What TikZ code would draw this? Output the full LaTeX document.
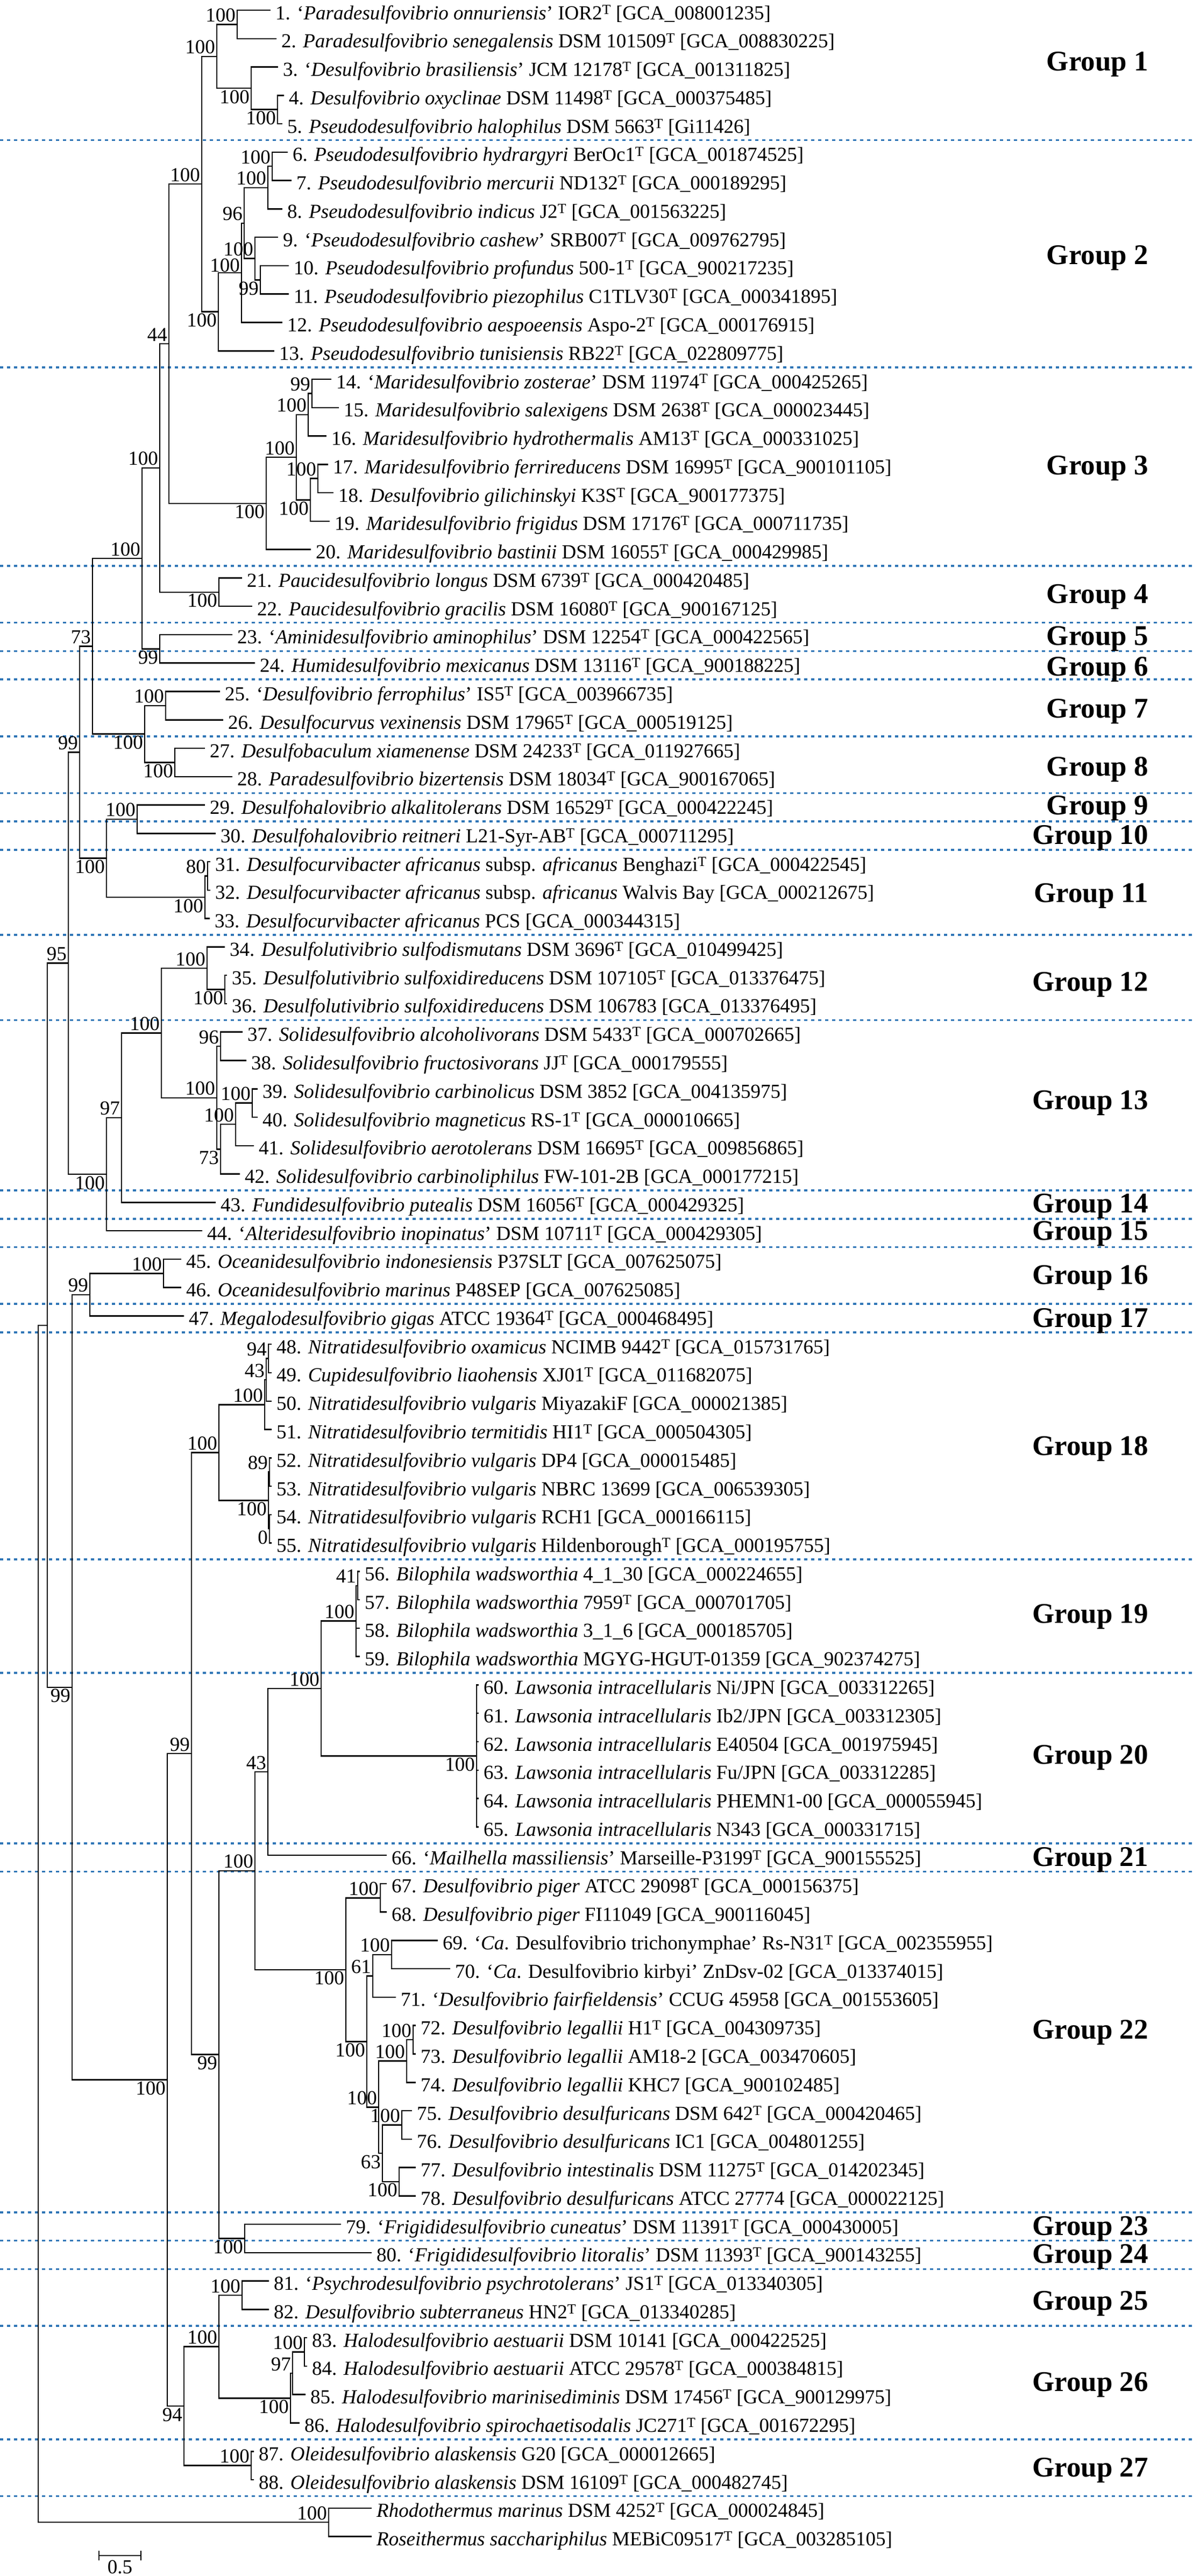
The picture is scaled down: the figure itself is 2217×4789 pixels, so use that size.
\documentclass[tikz,border=0pt]{standalone}
\usepackage{fontspec}
\setmainfont{Liberation Serif}
\definecolor{sepblue}{RGB}{46,117,182}
\newcommand\typ{\textsuperscript{T}}
\tikzset{
  br/.style={line width=2.5pt, line cap=rect, black},
  leaf/.style={font=\fontsize{37}{40}\selectfont, inner sep=0pt, anchor=base west},
  bs/.style={font=\fontsize{37}{40}\selectfont, inner sep=0pt, anchor=base east},
  grp/.style={font=\fontsize{53}{60}\selectfont\bfseries, inner sep=0pt, anchor=base east},
  sepline/.style={line width=3.5pt, color=sepblue, dash pattern=on 6pt off 7pt},
}
\newcommand\clade[3]{\draw[br] (#2) -| (#1 |- #3) -- (#3);}
\newcommand\midch[2]{\draw[br] (#1 |- #2) -- (#2);}
\newcommand\leafat[3]{\coordinate (L#1) at (#2,{19+52.77*(#1-1)});
  \node[leaf] (T#1) at ([xshift=10pt,yshift=-17pt]L#1) {#3};}
\newcommand\bsa[2]{\node[bs] (B#1) at ([xshift=-3pt,yshift=5pt]#1) {#2};}
\newcommand\bsb[2]{\node[bs] (B#1) at ([xshift=-3pt,yshift=-28pt]#1) {#2};}
\begin{document}
\begin{tikzpicture}[x=1pt,y=-1pt]
\useasboundingbox (0,0) rectangle (2217,4789);
\fill[white] (0,0) rectangle (2217,4789);
% separators
\foreach \i in {5,13,20,22,23,24,26,28,29,30,33,36,42,43,44,46,47,55,59,65,66,78,79,80,82,86,88}
  \draw[sepline] (0,{19+52.77*(\i-1)+30.5}) -- (2217,{19+52.77*(\i-1)+30.5});
% leaves
\leafat{1}{502}{1. `\textit{Paradesulfovibrio onnuriensis}' IOR2\typ{} [GCA\_008001235]}
\leafat{2}{513}{2. \textit{Paradesulfovibrio senegalensis} DSM 101509\typ{} [GCA\_008830225]}
\leafat{3}{516}{3. `\textit{Desulfovibrio brasiliensis}' JCM 12178\typ{} [GCA\_001311825]}
\leafat{4}{527}{4. \textit{Desulfovibrio oxyclinae} DSM 11498\typ{} [GCA\_000375485]}
\leafat{5}{524}{5. \textit{Pseudodesulfovibrio halophilus} DSM 5663\typ{} [Gi11426]}
\leafat{6}{534}{6. \textit{Pseudodesulfovibrio hydrargyri} BerOc1\typ{} [GCA\_001874525]}
\leafat{7}{541}{7. \textit{Pseudodesulfovibrio mercurii} ND132\typ{} [GCA\_000189295]}
\leafat{8}{524}{8. \textit{Pseudodesulfovibrio indicus} J2\typ{} [GCA\_001563225]}
\leafat{9}{516}{9. `\textit{Pseudodesulfovibrio cashew}' SRB007\typ{} [GCA\_009762795]}
\leafat{10}{536}{10. \textit{Pseudodesulfovibrio profundus} 500-1\typ{} [GCA\_900217235]}
\leafat{11}{536}{11. \textit{Pseudodesulfovibrio piezophilus} C1TLV30\typ{} [GCA\_000341895]}
\leafat{12}{524}{12. \textit{Pseudodesulfovibrio aespoeensis} Aspo-2\typ{} [GCA\_000176915]}
\leafat{13}{509}{13. \textit{Pseudodesulfovibrio tunisiensis} RB22\typ{} [GCA\_022809775]}
\leafat{14}{615}{14. `\textit{Maridesulfovibrio zosterae}' DSM 11974\typ{} [GCA\_000425265]}
\leafat{15}{629}{15. \textit{Maridesulfovibrio salexigens} DSM 2638\typ{} [GCA\_000023445]}
\leafat{16}{606}{16. \textit{Maridesulfovibrio hydrothermalis} AM13\typ{} [GCA\_000331025]}
\leafat{17}{609}{17. \textit{Maridesulfovibrio ferrireducens} DSM 16995\typ{} [GCA\_900101105]}
\leafat{18}{619}{18. \textit{Desulfovibrio gilichinskyi} K3S\typ{} [GCA\_900177375]}
\leafat{19}{612}{19. \textit{Maridesulfovibrio frigidus} DSM 17176\typ{} [GCA\_000711735]}
\leafat{20}{577}{20. \textit{Maridesulfovibrio bastinii} DSM 16055\typ{} [GCA\_000429985]}
\leafat{21}{449}{21. \textit{Paucidesulfovibrio longus} DSM 6739\typ{} [GCA\_000420485]}
\leafat{22}{468}{22. \textit{Paucidesulfovibrio gracilis} DSM 16080\typ{} [GCA\_900167125]}
\leafat{23}{431}{23. `\textit{Aminidesulfovibrio aminophilus}' DSM 12254\typ{} [GCA\_000422565]}
\leafat{24}{473}{24. \textit{Humidesulfovibrio mexicanus} DSM 13116\typ{} [GCA\_900188225]}
\leafat{25}{408}{25. `\textit{Desulfovibrio ferrophilus}' IS5\typ{} [GCA\_003966735]}
\leafat{26}{414}{26. \textit{Desulfocurvus vexinensis} DSM 17965\typ{} [GCA\_000519125]}
\leafat{27}{380}{27. \textit{Desulfobaculum xiamenense} DSM 24233\typ{} [GCA\_011927665]}
\leafat{28}{431}{28. \textit{Paradesulfovibrio bizertensis} DSM 18034\typ{} [GCA\_900167065]}
\leafat{29}{380}{29. \textit{Desulfohalovibrio alkalitolerans} DSM 16529\typ{} [GCA\_000422245]}
\leafat{30}{400}{30. \textit{Desulfohalovibrio reitneri} L21-Syr-AB\typ{} [GCA\_000711295]}
\leafat{31}{390}{31. \textit{Desulfocurvibacter africanus} subsp. \textit{africanus} Benghazi\typ{} [GCA\_000422545]}
\leafat{32}{390}{32. \textit{Desulfocurvibacter africanus} subsp. \textit{africanus} Walvis Bay [GCA\_000212675]}
\leafat{33}{389}{33. \textit{Desulfocurvibacter africanus} PCS [GCA\_000344315]}
\leafat{34}{417}{34. \textit{Desulfolutivibrio sulfodismutans} DSM 3696\typ{} [GCA\_010499425]}
\leafat{35}{421}{35. \textit{Desulfolutivibrio sulfoxidireducens} DSM 107105\typ{} [GCA\_013376475]}
\leafat{36}{421}{36. \textit{Desulfolutivibrio sulfoxidireducens} DSM 106783 [GCA\_013376495]}
\leafat{37}{450}{37. \textit{Solidesulfovibrio alcoholivorans} DSM 5433\typ{} [GCA\_000702665]}
\leafat{38}{457}{38. \textit{Solidesulfovibrio fructosivorans} JJ\typ{} [GCA\_000179555]}
\leafat{39}{478}{39. \textit{Solidesulfovibrio carbinolicus} DSM 3852 [GCA\_004135975]}
\leafat{40}{478}{40. \textit{Solidesulfovibrio magneticus} RS-1\typ{} [GCA\_000010665]}
\leafat{41}{471}{41. \textit{Solidesulfovibrio aerotolerans} DSM 16695\typ{} [GCA\_009856865]}
\leafat{42}{445}{42. \textit{Solidesulfovibrio carbinoliphilus} FW-101-2B [GCA\_000177215]}
\leafat{43}{400}{43. \textit{Fundidesulfovibrio putealis} DSM 16056\typ{} [GCA\_000429325]}
\leafat{44}{375}{44. `\textit{Alteridesulfovibrio inopinatus}' DSM 10711\typ{} [GCA\_000429305]}
\leafat{45}{336}{45. \textit{Oceanidesulfovibrio indonesiensis} P37SLT [GCA\_007625075]}
\leafat{46}{336}{46. \textit{Oceanidesulfovibrio marinus} P48SEP [GCA\_007625085]}
\leafat{47}{341}{47. \textit{Megalodesulfovibrio gigas} ATCC 19364\typ{} [GCA\_000468495]}
\leafat{48}{504}{48. \textit{Nitratidesulfovibrio oxamicus} NCIMB 9442\typ{} [GCA\_015731765]}
\leafat{49}{504}{49. \textit{Cupidesulfovibrio liaohensis} XJ01\typ{} [GCA\_011682075]}
\leafat{50}{504}{50. \textit{Nitratidesulfovibrio vulgaris} MiyazakiF [GCA\_000021385]}
\leafat{51}{504}{51. \textit{Nitratidesulfovibrio termitidis} HI1\typ{} [GCA\_000504305]}
\leafat{52}{504}{52. \textit{Nitratidesulfovibrio vulgaris} DP4 [GCA\_000015485]}
\leafat{53}{504}{53. \textit{Nitratidesulfovibrio vulgaris} NBRC 13699 [GCA\_006539305]}
\leafat{54}{504}{54. \textit{Nitratidesulfovibrio vulgaris} RCH1 [GCA\_000166115]}
\leafat{55}{504}{55. \textit{Nitratidesulfovibrio vulgaris} Hildenborough\typ{} [GCA\_000195755]}
\leafat{56}{668}{56. \textit{Bilophila wadsworthia} 4\_1\_30 [GCA\_000224655]}
\leafat{57}{668}{57. \textit{Bilophila wadsworthia} 7959\typ{} [GCA\_000701705]}
\leafat{58}{668}{58. \textit{Bilophila wadsworthia} 3\_1\_6 [GCA\_000185705]}
\leafat{59}{668}{59. \textit{Bilophila wadsworthia} MGYG-HGUT-01359 [GCA\_902374275]}
\leafat{60}{889}{60. \textit{Lawsonia intracellularis} Ni/JPN [GCA\_003312265]}
\leafat{61}{889}{61. \textit{Lawsonia intracellularis} Ib2/JPN [GCA\_003312305]}
\leafat{62}{889}{62. \textit{Lawsonia intracellularis} E40504 [GCA\_001975945]}
\leafat{63}{889}{63. \textit{Lawsonia intracellularis} Fu/JPN [GCA\_003312285]}
\leafat{64}{889}{64. \textit{Lawsonia intracellularis} PHEMN1-00 [GCA\_000055945]}
\leafat{65}{889}{65. \textit{Lawsonia intracellularis} N343 [GCA\_000331715]}
\leafat{66}{718}{66. `\textit{Mailhella massiliensis}' Marseille-P3199\typ{} [GCA\_900155525]}
\leafat{67}{718}{67. \textit{Desulfovibrio piger} ATCC 29098\typ{} [GCA\_000156375]}
\leafat{68}{718}{68. \textit{Desulfovibrio piger} FI11049 [GCA\_900116045]}
\leafat{69}{813}{69. `\textit{Ca}. Desulfovibrio trichonymphae' Rs-N31\typ{} [GCA\_002355955]}
\leafat{70}{836}{70. `\textit{Ca}. Desulfovibrio kirbyi' ZnDsv-02 [GCA\_013374015]}
\leafat{71}{735}{71. `\textit{Desulfovibrio fairfieldensis}' CCUG 45958 [GCA\_001553605]}
\leafat{72}{772}{72. \textit{Desulfovibrio legallii} H1\typ{} [GCA\_004309735]}
\leafat{73}{772}{73. \textit{Desulfovibrio legallii} AM18-2 [GCA\_003470605]}
\leafat{74}{772}{74. \textit{Desulfovibrio legallii} KHC7 [GCA\_900102485]}
\leafat{75}{765}{75. \textit{Desulfovibrio desulfuricans} DSM 642\typ{} [GCA\_000420465]}
\leafat{76}{765}{76. \textit{Desulfovibrio desulfuricans} IC1 [GCA\_004801255]}
\leafat{77}{772}{77. \textit{Desulfovibrio intestinalis} DSM 11275\typ{} [GCA\_014202345]}
\leafat{78}{772}{78. \textit{Desulfovibrio desulfuricans} ATCC 27774 [GCA\_000022125]}
\leafat{79}{633}{79. `\textit{Frigididesulfovibrio cuneatus}' DSM 11391\typ{} [GCA\_000430005]}
\leafat{80}{690}{80. `\textit{Frigididesulfovibrio litoralis}' DSM 11393\typ{} [GCA\_900143255]}
\leafat{81}{499}{81. `\textit{Psychrodesulfovibrio psychrotolerans}' JS1\typ{} [GCA\_013340305]}
\leafat{82}{499}{82. \textit{Desulfovibrio subterraneus} HN2\typ{} [GCA\_013340285]}
\leafat{83}{570}{83. \textit{Halodesulfovibrio aestuarii} DSM 10141 [GCA\_000422525]}
\leafat{84}{570}{84. \textit{Halodesulfovibrio aestuarii} ATCC 29578\typ{} [GCA\_000384815]}
\leafat{85}{567}{85. \textit{Halodesulfovibrio marinisediminis} DSM 17456\typ{} [GCA\_900129975]}
\leafat{86}{556}{86. \textit{Halodesulfovibrio spirochaetisodalis} JC271\typ{} [GCA\_001672295]}
\leafat{87}{471}{87. \textit{Oleidesulfovibrio alaskensis} G20 [GCA\_000012665]}
\leafat{88}{471}{88. \textit{Oleidesulfovibrio alaskensis} DSM 16109\typ{} [GCA\_000482745]}
\leafat{89}{690}{\textit{Rhodothermus marinus} DSM 4252\typ{} [GCA\_000024845]}
\leafat{90}{690}{\textit{Roseithermus sacchariphilus} MEBiC09517\typ{} [GCA\_003285105]}
% internal nodes
\coordinate (g1) at (403,104.76); \coordinate (a12) at (441,45.39);
\coordinate (a345) at (467,164.12); \coordinate (a45) at (516,203.70);
\coordinate (g12) at (375,342.23);
\coordinate (g2) at (406,579.69); \coordinate (b12) at (449,507.13);
\coordinate (a96) at (454,414.78); \coordinate (a678) at (498,348.81);
\coordinate (a67) at (506,309.24); \coordinate (a91011) at (474,480.74);
\coordinate (a1011) at (484,520.32);
\coordinate (a44) at (314,639.05);
\coordinate (g3) at (495,935.88); \coordinate (a1419) at (551,850.13);
\coordinate (a1416) at (573,770.97); \coordinate (a1415) at (580,731.40);
\coordinate (a1719) at (577,929.28); \coordinate (a1718) at (591,889.71);
\coordinate (a100u) at (297,869.92); \coordinate (g4) at (407,1100.79);
\coordinate (g56) at (297,1206.33); \coordinate (a187) at (264,1038.12);
\coordinate (g78) at (269,1364.64); \coordinate (a2526) at (308,1311.87);
\coordinate (a2728) at (325,1417.41);
\coordinate (a73) at (172,1201.38);
\coordinate (a2930) at (255,1522.95); \coordinate (g11) at (381,1668.06);
\coordinate (a3132) at (386,1628.49); \coordinate (a2933) at (198,1595.51);
\coordinate (a99a) at (148,1398.44);
\coordinate (d12) at (385,1799.99); \coordinate (a3536) at (418,1839.57);
\coordinate (d13) at (403,2040.75); \coordinate (a3738) at (410,1945.11);
\coordinate (a3942) at (410,2136.40); \coordinate (a3941) at (438,2090.22);
\coordinate (a3940) at (469,2050.65);
\coordinate (a1213) at (300,1920.37); \coordinate (a97) at (226,2077.86);
\coordinate (a1215) at (198,2182.98); \coordinate (a95) at (127,1790.71);
\coordinate (a4546) at (304,2367.27); \coordinate (a1617) at (167,2406.84);
\coordinate (a4849) at (499,2525.58); \coordinate (a4850) at (495,2565.15);
\coordinate (a4851) at (492,2611.33); \coordinate (a5253) at (501,2736.66);
\coordinate (a5455) at (501,2842.20); \coordinate (a5255) at (499,2789.43);
\coordinate (g18) at (407,2700.38);
\coordinate (a5657) at (665,2947.74); \coordinate (g19) at (662,3013.70);
\coordinate (g20) at (886,3264.36); \coordinate (a1920) at (597,3139.03);
\coordinate (a43) at (498,3294.04);
\coordinate (a6768) at (707,3528.21); \coordinate (a6970) at (728,3633.75);
\coordinate (a61) at (693,3673.33); \coordinate (a7273) at (768,3792.06);
\coordinate (a7274) at (756,3831.64); \coordinate (a7576) at (747,3950.37);
\coordinate (a7778) at (742,4055.91); \coordinate (a7578) at (711,4003.14);
\coordinate (a7278) at (704,3917.39); \coordinate (a7178) at (682,3795.36);
\coordinate (g22) at (643,3661.79);
\coordinate (a1922) at (474,3477.92); \coordinate (a7980) at (455,4161.45);
\coordinate (a1924) at (407,3819.69); \coordinate (a1824) at (356,3260.04);
\coordinate (a8182) at (450,4266.99); \coordinate (a8384) at (566,4372.53);
\coordinate (a8385) at (544,4412.11); \coordinate (g26) at (540,4458.28);
\coordinate (a2526g) at (407,4362.64); \coordinate (a8788) at (467,4583.61);
\coordinate (a94) at (342,4473.13);
\coordinate (a1827) at (311,3866.59); \coordinate (a99b) at (134,3136.72);
\coordinate (ingr) at (88,2463.72); \coordinate (outg) at (611,4689.15);
\coordinate (root) at (71,3576.44);
% branches
\clade{a12}{L1}{L2} \clade{a45}{L4}{L5} \clade{a345}{L3}{a45} \clade{g1}{a12}{a345}
\clade{a67}{L6}{L7} \clade{a678}{a67}{L8} \clade{a1011}{L10}{L11} \clade{a91011}{L9}{a1011}
\clade{a96}{a678}{a91011} \clade{b12}{a96}{L12} \clade{g2}{b12}{L13} \clade{g12}{g1}{g2}
\clade{a1415}{L14}{L15} \clade{a1416}{a1415}{L16} \clade{a1718}{L17}{L18} \clade{a1719}{a1718}{L19}
\clade{a1419}{a1416}{a1719} \clade{g3}{a1419}{L20} \clade{a44}{g12}{g3}
\clade{g4}{L21}{L22} \clade{a100u}{a44}{g4} \clade{g56}{L23}{L24} \clade{a187}{a100u}{g56}
\clade{a2526}{L25}{L26} \clade{a2728}{L27}{L28} \clade{g78}{a2526}{a2728} \clade{a73}{a187}{g78}
\clade{a2930}{L29}{L30} \clade{a3132}{L31}{L32} \clade{g11}{a3132}{L33} \clade{a2933}{a2930}{g11}
\clade{a99a}{a73}{a2933}
\clade{a3536}{L35}{L36} \clade{d12}{L34}{a3536} \clade{a3738}{L37}{L38} \clade{a3940}{L39}{L40}
\clade{a3941}{a3940}{L41} \clade{a3942}{a3941}{L42} \clade{d13}{a3738}{a3942} \clade{a1213}{d12}{d13}
\clade{a97}{a1213}{L43} \clade{a1215}{a97}{L44} \clade{a95}{a99a}{a1215}
\clade{a4546}{L45}{L46} \clade{a1617}{a4546}{L47}
\clade{a4849}{L48}{L49} \clade{a4850}{a4849}{L50} \clade{a4851}{a4850}{L51}
\clade{a5253}{L52}{L53} \clade{a5455}{L54}{L55} \clade{a5255}{a5253}{a5455} \clade{g18}{a4851}{a5255}
\clade{a5657}{L56}{L57} \clade{g19}{a5657}{L59} \midch{g19}{L58}
\clade{g20}{L60}{L65} \midch{g20}{L61} \midch{g20}{L62} \midch{g20}{L63} \midch{g20}{L64}
\clade{a1920}{g19}{g20} \clade{a43}{a1920}{L66}
\clade{a6768}{L67}{L68} \clade{a6970}{L69}{L70} \clade{a61}{a6970}{L71}
\clade{a7273}{L72}{L73} \clade{a7274}{a7273}{L74} \clade{a7576}{L75}{L76} \clade{a7778}{L77}{L78}
\clade{a7578}{a7576}{a7778} \clade{a7278}{a7274}{a7578} \clade{a7178}{a61}{a7278} \clade{g22}{a6768}{a7178}
\clade{a1922}{a43}{g22} \clade{a7980}{L79}{L80} \clade{a1924}{a1922}{a7980} \clade{a1824}{g18}{a1924}
\clade{a8182}{L81}{L82} \clade{a8384}{L83}{L84} \clade{a8385}{a8384}{L85} \clade{g26}{a8385}{L86}
\clade{a2526g}{a8182}{g26} \clade{a8788}{L87}{L88} \clade{a94}{a2526g}{a8788}
\clade{a1827}{a1824}{a94} \clade{a99b}{a1617}{a1827} \clade{ingr}{a95}{a99b}
\clade{outg}{L89}{L90} \clade{root}{ingr}{outg}
% bootstrap values
\bsa{a12}{100} \bsb{a45}{100} \bsb{a345}{100} \bsa{g1}{100} \bsa{g12}{100}
\bsa{a67}{100} \bsa{a678}{100} \bsa{a96}{96} \bsa{a91011}{100} \bsb{a1011}{99} \bsb{g2}{100}
\node[bs] (Bb12) at ([xshift=-3pt,yshift=2pt]b12) {100};
\bsa{a44}{44}
\bsa{a1415}{99} \bsa{a1416}{100} \bsa{a1718}{100} \bsb{a1719}{100} \bsa{a1419}{100} \bsb{g3}{100}
\bsa{a100u}{100} \bsb{g4}{100} \bsb{g56}{99} \bsa{a187}{100}
\bsa{a2526}{100} \bsb{a2728}{100} \bsb{g78}{100} \bsa{a73}{73}
\bsa{a2930}{100} \bsa{a3132}{80} \bsb{g11}{100} \bsb{a2933}{100} \bsa{a99a}{99}
\bsb{a3536}{100} \bsa{d12}{100} \bsa{a3738}{96} \bsa{a3940}{100} \bsa{a3941}{100} \bsb{a3942}{73}
\bsa{d13}{100} \bsa{a1213}{100} \bsa{a97}{97} \bsb{a1215}{100} \bsa{a95}{95}
\bsa{a4546}{100} \bsa{a1617}{99}
\bsa{a4849}{94} \bsa{a4850}{43} \bsa{a4851}{100} \bsa{a5253}{89} \bsb{a5455}{0} \bsb{a5255}{100} \bsa{g18}{100}
\bsa{a5657}{41} \bsa{g19}{100} \bsb{g20}{100} \bsa{a1920}{100} \bsa{a43}{43}
\bsa{a6768}{100} \bsa{a6970}{100} \bsa{a61}{61} \bsa{a7273}{100} \bsa{a7274}{100} \bsa{a7576}{100}
\bsb{a7778}{100} \bsb{a7578}{63} \bsa{a7278}{100} \bsb{a7178}{100} \bsb{g22}{100} \bsa{a1922}{100}
\bsb{a7980}{100} \bsb{a1924}{99} \bsa{a1824}{99}
\bsa{a8182}{100} \bsa{a8384}{100} \bsa{a8385}{97} \bsb{g26}{100} \bsa{a2526g}{100} \bsa{a8788}{100}
\bsb{a94}{94} \bsb{a1827}{100} \bsb{a99b}{99} \bsa{outg}{100}
% group labels
\node[grp] (G1) at (2135,131.5) {Group 1};
\node[grp] (G2) at (2135,491.5) {Group 2};
\node[grp] (G3) at (2135,882.5) {Group 3};
\node[grp] (G4) at (2135,1121.5) {Group 4};
\node[grp] (G5) at (2135,1199.5) {Group 5};
\node[grp] (G6) at (2135,1256.5) {Group 6};
\node[grp] (G7) at (2135,1334.5) {Group 7};
\node[grp] (G8) at (2135,1442.5) {Group 8};
\node[grp] (G9) at (2135,1514.5) {Group 9};
\node[grp] (G10) at (2135,1569.5) {Group 10};
\node[grp] (G11) at (2135,1677.5) {Group 11};
\node[grp] (G12) at (2135,1842.5) {Group 12};
\node[grp] (G13) at (2135,2062.5) {Group 13};
\node[grp] (G14) at (2135,2254.5) {Group 14};
\node[grp] (G15) at (2135,2305.5) {Group 15};
\node[grp] (G16) at (2135,2387.5) {Group 16};
\node[grp] (G17) at (2135,2467.5) {Group 17};
\node[grp] (G18) at (2135,2705.5) {Group 18};
\node[grp] (G19) at (2135,3017.5) {Group 19};
\node[grp] (G20) at (2135,3279.5) {Group 20};
\node[grp] (G21) at (2135,3469.5) {Group 21};
\node[grp] (G22) at (2135,3790.5) {Group 22};
\node[grp] (G23) at (2135,4155.5) {Group 23};
\node[grp] (G24) at (2135,4207.5) {Group 24};
\node[grp] (G25) at (2135,4294.5) {Group 25};
\node[grp] (G26) at (2135,4445.5) {Group 26};
\node[grp] (G27) at (2135,4604.5) {Group 27};
% scale bar
\coordinate (s1) at (184,4751); \coordinate (s2) at (262,4751);
\draw[br] (s1) -- (s2);
\draw[br] ([yshift=8pt]s1) -- ([yshift=-8pt]s1);
\draw[br] ([yshift=8pt]s2) -- ([yshift=-8pt]s2);
\node[font=\fontsize{37}{40}\selectfont, inner sep=0pt, anchor=north] (sc) at (223,4760) {0.5};
\end{tikzpicture}
\end{document}
